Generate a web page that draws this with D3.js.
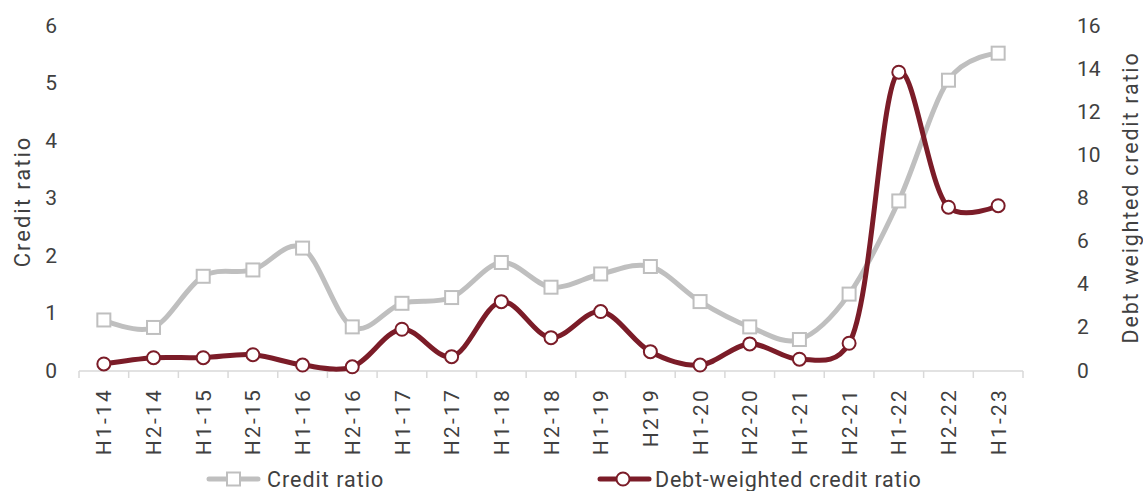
<!DOCTYPE html>
<html><head><meta charset="utf-8">
<script src="https://cdn.jsdelivr.net/npm/d3@7"></script>
<style>
html,body{margin:0;padding:0;background:#fff;}
svg{display:block;font-family:Roboto, "Noto Sans", sans-serif;}
</style></head>
<body><svg id="chart" width="1143" height="491"></svg>
<script>
const categories = ["H1-14","H2-14","H1-15","H2-15","H1-16","H2-16","H1-17","H2-17","H1-18","H2-18","H1-19","H219","H1-20","H2-20","H1-21","H2-21","H1-22","H2-22","H1-23"];
const creditRatio = [0.87,0.74,1.63,1.74,2.12,0.75,1.16,1.26,1.87,1.44,1.67,1.80,1.19,0.75,0.53,1.32,2.94,5.04,5.51];
const debtWeighted = [0.28,0.57,0.57,0.71,0.23,0.15,1.89,0.62,3.17,1.50,2.71,0.85,0.23,1.21,0.50,1.24,13.81,7.55,7.62];
const leftTicks = [0,1,2,3,4,5,6];
const rightTicks = [0,2,4,6,8,10,12,14,16];
const seriesNames = ["Credit ratio","Debt-weighted credit ratio"];

const svg = d3.select("#chart");
const textColor = "#404040";
const grey = "#bfbfbf", maroon = "#7b1c28";
const x = d3.scaleBand().domain(categories).range([79, 1023]);
const yL = d3.scaleLinear().domain([0,6]).range([370, 25]);
const yR = d3.scaleLinear().domain([0,16]).range([370, 25]);
const cx = d => x(d) + x.bandwidth()/2;

svg.append("g").selectAll("text").data(leftTicks).join("text")
  .attr("x", 57).attr("y", d => yL(d)).attr("dy", "0.36em")
  .attr("text-anchor", "end").attr("font-size", 21).attr("fill", textColor).text(d => d);
svg.append("g").selectAll("text").data(rightTicks).join("text")
  .attr("x", 1077).attr("y", d => yR(d)).attr("dy", "0.36em")
  .attr("text-anchor", "start").attr("font-size", 21).attr("fill", textColor).text(d => d);

svg.append("text").attr("transform", `translate(30,${(25+370)/2+4}) rotate(-90)`)
  .attr("text-anchor","middle").attr("font-size", 22).attr("letter-spacing", 2).attr("fill", textColor).text("Credit ratio");
svg.append("text").attr("transform", `translate(1138,${(25+370)/2}) rotate(-90)`)
  .attr("text-anchor","middle").attr("font-size", 21.5).attr("letter-spacing", 1.8).attr("fill", textColor).text("Debt weighted credit ratio");

const xAxisG = svg.append("g");
xAxisG.append("line").attr("x1", 79).attr("x2", 1023).attr("y1", 371).attr("y2", 371)
  .attr("stroke", "#d9d9d9").attr("stroke-width", 1.5);
const bounds = categories.map(c => x(c)).concat([x.range()[1]]);
xAxisG.selectAll("line.tk").data(bounds).join("line").attr("class","tk")
  .attr("x1", d => d).attr("x2", d => d).attr("y1", 371).attr("y2", 378)
  .attr("stroke", "#d9d9d9").attr("stroke-width", 1.5);
xAxisG.selectAll("text").data(categories).join("text")
  .attr("transform", d => `translate(${cx(d)},388) rotate(-90)`)
  .attr("dy", "0.36em").attr("text-anchor", "end").attr("font-size", 21).attr("letter-spacing", 2.2)
  .attr("fill", textColor).text(d => d);

const lineL = d3.line().x((d,i) => cx(categories[i])).y(d => yL(d)).curve(d3.curveCardinal.tension(0));
const lineR = d3.line().x((d,i) => cx(categories[i])).y(d => yR(d)).curve(d3.curveCatmullRom.alpha(0.3));

svg.append("path").attr("d", lineL(creditRatio)).attr("fill","none").attr("stroke", grey).attr("stroke-width", 5);
svg.append("g").selectAll("rect").data(creditRatio).join("rect")
  .attr("x", (d,i) => cx(categories[i]) - 6.5).attr("y", d => yL(d) - 6.5)
  .attr("width", 13).attr("height", 13).attr("fill", "#fff").attr("stroke", grey).attr("stroke-width", 2);

svg.append("path").attr("d", lineR(debtWeighted)).attr("fill","none").attr("stroke", maroon).attr("stroke-width", 5);
svg.append("g").selectAll("circle").data(debtWeighted).join("circle")
  .attr("cx", (d,i) => cx(categories[i])).attr("cy", d => yR(d)).attr("r", 6.5)
  .attr("fill", "#fff").attr("stroke", maroon).attr("stroke-width", 2);

const ly = 479;
const lg = svg.append("g");
lg.append("line").attr("x1", 209).attr("x2", 258).attr("y1", ly).attr("y2", ly).attr("stroke", grey).attr("stroke-width", 5).attr("stroke-linecap","round");
lg.append("rect").attr("x", 227).attr("y", ly-6.5).attr("width", 13).attr("height", 13).attr("fill","#fff").attr("stroke", grey).attr("stroke-width", 2);
lg.append("text").attr("x", 267).attr("y", ly).attr("dy","0.36em").attr("font-size", 21.5).attr("letter-spacing", 1).attr("fill", textColor).text(seriesNames[0]);
lg.append("line").attr("x1", 600).attr("x2", 649).attr("y1", ly).attr("y2", ly).attr("stroke", maroon).attr("stroke-width", 5).attr("stroke-linecap","round");
lg.append("circle").attr("cx", 623).attr("cy", ly).attr("r", 6.5).attr("fill","#fff").attr("stroke", maroon).attr("stroke-width", 2);
lg.append("text").attr("x", 655).attr("y", ly).attr("dy","0.36em").attr("font-size", 21.5).attr("letter-spacing", 0.8).attr("fill", textColor).text(seriesNames[1]);
</script></body></html>
